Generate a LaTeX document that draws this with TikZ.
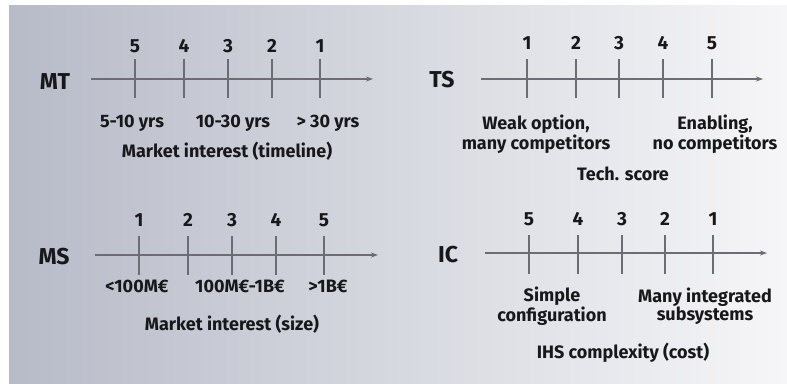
\documentclass[tikz,border=0pt]{standalone}
\usepackage{fontspec}
\setmainfont{Fira Sans}
\usetikzlibrary{arrows.meta,positioning}
\definecolor{axisgray}{RGB}{108,109,116}
\definecolor{inkblack}{RGB}{24,24,26}
\definecolor{bgleft}{RGB}{183,187,200}
\definecolor{bgright}{RGB}{246,246,248}
\def\ticklen{39pt}

\begin{document}
\begin{tikzpicture}[
    x=1pt, y=-1pt,
    text=inkblack,
    axis/.style={draw=axisgray, line width=1.8pt, -{Stealth[length=7pt,width=5pt]}},
    tick/.style={fill=axisgray, inner sep=0pt, minimum width=2.8pt, minimum height=\ticklen},
    scale label/.style={font=\bfseries\fontsize{23}{23}\selectfont, anchor=base},
    num/.style={font=\bfseries\fontsize{19}{19}\selectfont, anchor=base},
    annot/.style={font=\bfseries\fontsize{18}{18.5}\selectfont, anchor=base, inner sep=0pt},
    annot2/.style={annot, anchor=center, align=center}
]

    % Background
    \useasboundingbox (0,0) rectangle (787,383);
    \fill[white] (0,0) rectangle (787,383);
    \shade[left color=bgleft, right color=bgright] (9,5) rectangle (787,383);

    % MT scale (market timeline)
    \node[scale label] (MT) at (55,89) {MT};
    \coordinate (MT-a) at (91,79);
    \coordinate (MT-b) at (373,79);
    \draw[axis] (MT-a) -- (MT-b);
    \foreach \x / \n [count=\i] in {135/5,184/4,228/3,272/2,320/1} {
        \node[tick] (MT-t\i) at (\x,78.5) {};
        \node[num] (MT-n\i) at (\x,52) {\n};
    }
    \node[annot] (MT-l1) at (132,127) {5-10 yrs};
    \node[annot] (MT-l2) at (233,127) {10-30 yrs};
    \node[annot] (MT-l3) at (328,127) {> 30 yrs};
    \node[annot] (MT-title) at (227,157) {Market interest (timeline)};

    % TS scale (tech. score)
    \node[scale label] (TS) at (442,87) {TS};
    \coordinate (TS-a) at (481,79);
    \coordinate (TS-b) at (763,79);
    \draw[axis] (TS-a) -- (TS-b);
    \foreach \x / \n [count=\i] in {527/1,576/2,619/3,663/4,712/5} {
        \node[tick] (TS-t\i) at (\x,78.5) {};
        \node[num] (TS-n\i) at (\x,49) {\n};
    }
    \node[annot2] (TS-l1) at (536,134) {Weak option,\\many competitors};
    \node[annot2] (TS-l2) at (715,134) {Enabling,\\no competitors};
    \node[annot] (TS-title) at (623,180) {Tech. score};

    % MS scale (market size)
    \node[scale label] (MS) at (54,264) {MS};
    \coordinate (MS-a) at (95,255);
    \coordinate (MS-b) at (378,255);
    \draw[axis] (MS-a) -- (MS-b);
    \foreach \x / \n [count=\i] in {139/1,188/2,232/3,276/4,324/5} {
        \node[tick] (MS-t\i) at (\x,255) {};
        \node[num] (MS-n\i) at (\x,226) {\n};
    }
    \node[annot] (MS-l1) at (137,292) {<100M€};
    \node[annot] (MS-l2) at (240,292) {100M€-1B€};
    \node[annot] (MS-l3) at (328,292) {>1B€};
    \node[annot] (MS-title) at (232,330) {Market interest (size)};

    % IC scale (IHS complexity)
    \node[scale label] (IC) at (448,262) {IC};
    \coordinate (IC-a) at (485,253);
    \coordinate (IC-b) at (767,253);
    \draw[axis] (IC-a) -- (IC-b);
    \foreach \x / \n [count=\i] in {529/5,578/4,622/3,665/2,713/1} {
        \node[tick] (IC-t\i) at (\x,254.5) {};
        \node[num] (IC-n\i) at (\x,225) {\n};
    }
    \node[annot2] (IC-l1) at (552,306) {Simple\\configuration};
    \node[annot2] (IC-l2) at (705,306) {Many integrated\\subsystems};
    \node[annot] (IC-title) at (623,358) {IHS complexity (cost)};
\end{tikzpicture}
\end{document}
